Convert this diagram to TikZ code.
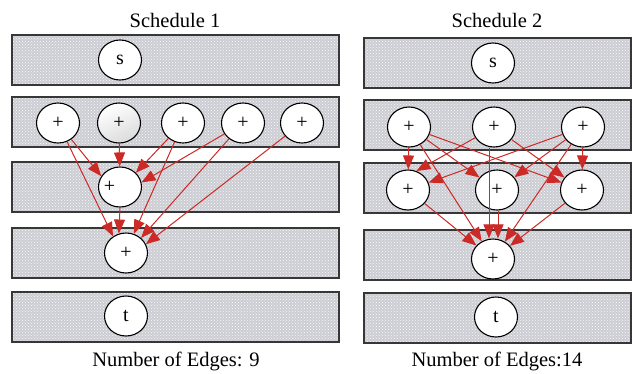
\documentclass[tikz,border=0pt]{standalone}
\usepackage{fontspec}
\setmainfont{Liberation Serif}
\usetikzlibrary{shapes.geometric,arrows.meta,patterns}
\definecolor{edgered}{RGB}{204,42,38}
\definecolor{bandfill}{RGB}{204,205,211}
\definecolor{bandline}{RGB}{55,55,55}
\tikzset{
  band/.style={draw=bandline, line width=1.2pt, fill=bandfill},
  bandtex/.style={pattern=crosshatch dots, pattern color=white!90!bandfill},
  op/.style={ellipse, draw=black, line width=1.1pt, fill=white, minimum width=43pt,
    minimum height=40pt, inner sep=0pt, font=\fontsize{20}{22}\selectfont},
  opshade/.style={op, shading=axis, top color=white, bottom color=gray!28, shading angle=25},
  dep/.style={draw=edgered, line width=1pt, -{Triangle[length=14pt,width=11pt]}},
  caption/.style={anchor=base, font=\fontsize{20.5}{24}\selectfont}
}
\begin{document}
\begin{tikzpicture}[x=1pt,y=-1pt]
\useasboundingbox (0,0) rectangle (632,373);

% schedule bands
\foreach \ya/\yb in {35/85,97/147,162/212,228/278,292/342}{
  \path[band] (12,\ya) rectangle (339,\yb);
  \path[bandtex] (12,\ya) rectangle (339,\yb);
  \path[draw=bandline, line width=1.2pt] (12,\ya) rectangle (339,\yb);
}
\foreach \ya/\yb in {38/88,100/150,163/213,230/280,293/343}{
  \path[band] (364,\ya) rectangle (631,\yb);
  \path[bandtex] (364,\ya) rectangle (631,\yb);
  \path[draw=bandline, line width=1.2pt] (364,\ya) rectangle (631,\yb);
}

% titles and edge counts
\node[caption] (h1) at (175,27) {Schedule 1};
\node[caption] (h2) at (497,27) {Schedule 2};
\node[caption] (f1) at (176,366) {Number of Edges: 9};
\node[caption] (f2) at (497,366) {Number of Edges:14};

% schedule 1 operations
\node[op] (s1) at (120,60) {s};
\node[op] (a1) at (58,123) {+};
\node[opshade] (a2) at (119,123) {+};
\node[op] (a3) at (183,123) {+};
\node[op] (a4) at (243,123) {+};
\node[op] (a5) at (302,123) {+};
\node[op] (m1) at (120,187) {\makebox[0pt]{+\hspace{21pt}}};
\node[op] (r1) at (126,253) {+};
\node[op] (t1) at (126,316) {t};

\draw[dep] (a1) -- (m1.150);
\draw[dep] (a1) -- (r1.128);
\draw[dep] (a2) -- (m1);
\draw[dep] (a3) -- (m1.42);
\draw[dep] (a3) -- (r1.68);
\draw[dep] (a4) -- (m1.12);
\draw[dep] (a4) -- (r1.45);
\draw[dep] (a5) -- (r1.24);
\draw[dep] (m1.south) -- (r1.110);

% schedule 2 operations
\node[op] (s2) at (493,63) {s};
\node[op] (b1) at (409,127) {+};
\node[op] (b2) at (494,127) {+};
\node[op] (b3) at (583,127) {+};
\node[op] (c1) at (408,190) {+};
\node[op] (c2) at (497,190) {+};
\node[op] (c3) at (582,190) {+};
\node[op] (r2) at (493,259) {+};
\node[op] (t2) at (496,317) {t};

\draw[dep] (b1) -- (c1);
\draw[dep] (b1) -- (c2);
\draw[dep] (b1) -- (c3);
\draw[dep] (b1) -- (r2);
\draw[dep] (b2) -- (c1.66);
\draw[dep] (b2) -- (c3);
\draw[dep] ([xshift=-5pt]b2.south) -- ([xshift=-4pt]r2.north);
\draw[dep] (b3) -- (c1);
\draw[dep] (b3) -- (c2);
\draw[dep] (b3) -- (c3);
\draw[dep] (b3) -- (r2);
\draw[dep] (c1) -- (r2);
\draw[dep] ([xshift=1pt]c2.south) -- ([xshift=5pt]r2.north);
\draw[dep] (c3) -- (r2);
\end{tikzpicture}
\end{document}
